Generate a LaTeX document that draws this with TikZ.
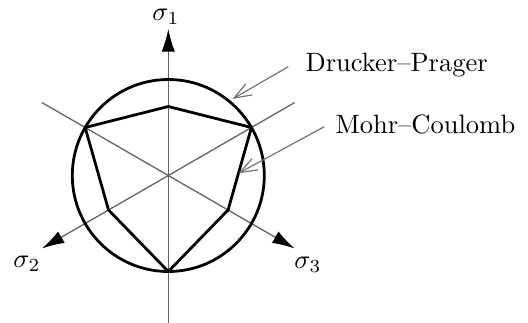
\documentclass[tikz,border=0pt]{standalone}
\usetikzlibrary{arrows.meta,calc}
\begin{document}
\begin{tikzpicture}[x=0.3774pt,y=0.3774pt,
  thickline/.style={line width=1.05pt, line join=round},
  axis/.style={line width=0.5pt, draw=black!60},
  axistip/.style={-{Latex[length=8.5pt,width=5pt,color=black]}},
  callout/.style={line width=0.45pt, draw=black!55, -{Straight Barb[length=6.5pt,width=4.8pt]}},
  lbl/.style={inner sep=0pt}]
\useasboundingbox (0,0) rectangle (528,322);
\coordinate (O) at (168.3,146.5);
% axes
\coordinate (A1) at ($(O)+(90:146.5)$);
\coordinate (A1b) at ($(O)+(270:150)$);
\coordinate (A2) at ($(O)+(210:146)$);
\coordinate (A2b) at ($(O)+(30:146)$);
\coordinate (A3) at ($(O)+(330:146)$);
\coordinate (A3b) at ($(O)+(150:146)$);
\draw[axis,axistip] (A1b) -- (A1);
\draw[axis,axistip] (A2b) -- (A2);
\draw[axis,axistip] (A3b) -- (A3);
% Drucker-Prager circle
\draw[thickline] (O) circle (96);
% Mohr-Coulomb hexagon
\coordinate (H1) at ($(O)+(30:96)$);
\coordinate (H2) at ($(O)+(90:69)$);
\coordinate (H3) at ($(O)+(150:96)$);
\coordinate (H4) at ($(O)+(210:69)$);
\coordinate (H5) at ($(O)+(270:96)$);
\coordinate (H6) at ($(O)+(330:69)$);
\draw[thickline] (H1) -- (H2) -- (H3) -- (H4) -- (H5) -- (H6) -- cycle;
% axis labels
\node[lbl] (s1) at (166,305) {$\sigma_1$};
\node[lbl] (s2) at (27,58) {$\sigma_2$};
\node[lbl] (s3) at (308,57) {$\sigma_3$};
% callout labels
\node[lbl, anchor=base west] (dp) at (305,251) {Drucker--Prager};
\node[lbl, anchor=base west] (mc) at (335,188.7) {Mohr--Coulomb};
\coordinate (dpS) at (288.3,255.3);
\coordinate (dpT) at ($(O)+(50:100)$);
\coordinate (mcS) at (324.3,195.3);
\coordinate (mcT) at ($(H1)!0.555!(H6)$);
\draw[callout] (dpS) -- (dpT);
\draw[callout] (mcS) -- (mcT);
\end{tikzpicture}
\end{document}
